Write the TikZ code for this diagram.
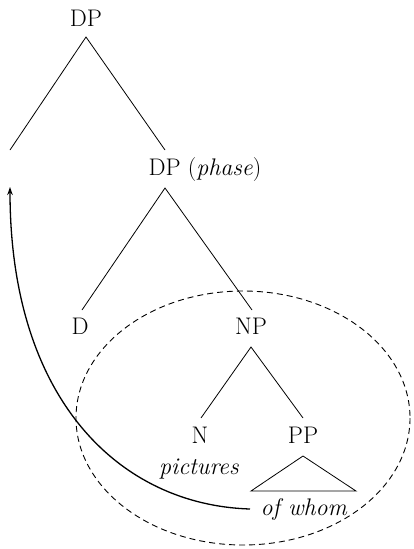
\documentclass[tikz,border=0pt]{standalone}
\usetikzlibrary{arrows.meta}
\begin{document}
\begin{tikzpicture}[x=1pt,y=-1pt,
  lab/.style={font=\fontsize{24}{24}\selectfont, inner sep=0pt, anchor=base},
  branch/.style={line width=0.8pt},
  movement/.style={line width=1.3pt, -{Stealth[length=8pt,width=5.5pt]}},
  phasering/.style={line width=0.9pt, dash pattern=on 6pt off 4pt}]
\useasboundingbox (0,0) rectangle (413,549);

% labels
\node[lab] (dp)     at (86,26)  {DP};
\node[lab] (dpph)   at (205,175) {DP (\textit{phase})};
\node[lab] (d)      at (80,334) {D};
\node[lab] (np)     at (251,334) {NP};
\node[lab] (n)      at (200,443) {N};
\node[lab] (pp)     at (303,443) {PP};
\node[lab] (pict)   at (199,474) {\textit{pictures}};
\node[lab] (ofwhom) at (304,515) {\textit{of whom}};

% branch points
\coordinate (dp-top)   at (86,37);
\coordinate (spec)     at (10,150);
\coordinate (dp-r)     at (165,150);
\coordinate (dpph-top) at (165,188);
\coordinate (d-end)    at (82,310);
\coordinate (np-end)   at (252,310);
\coordinate (np-top)   at (251,347);
\coordinate (n-end)    at (201,418);
\coordinate (pp-end)   at (303,418);
\coordinate (tri-top)  at (303,456);
\coordinate (tri-l)    at (251,491);
\coordinate (tri-r)    at (356,491);
\coordinate (landing)  at (10,187);
\coordinate (launch)   at (250,509);

% tree
\draw[branch] (spec) -- (dp-top) -- (dp-r);
\draw[branch] (d-end) -- (dpph-top) -- (np-end);
\draw[branch] (n-end) -- (np-top) -- (pp-end);
\draw[branch] (tri-top) -- (tri-l) -- (tri-r) -- cycle;

% phase domain
\draw[phasering] (243,418) ellipse [x radius=167, y radius=127];

% movement arrow
\draw[movement] (launch) .. controls (120,505) and (10,400) .. (landing);
\end{tikzpicture}
\end{document}
